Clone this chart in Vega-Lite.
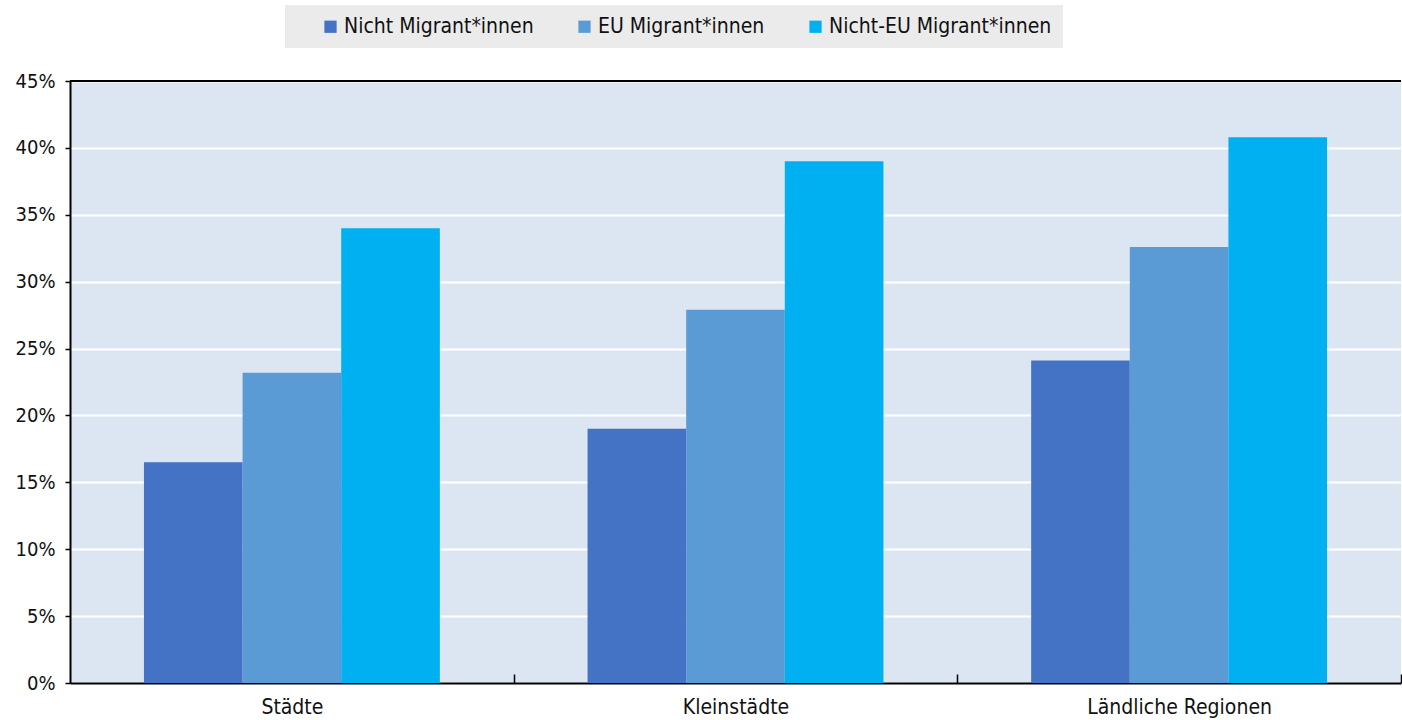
{
  "$schema": "https://vega.github.io/schema/vega-lite/v6.json",
  "autosize": "none",
  "padding": {"left": 70, "top": 81, "right": 1, "bottom": 37},
  "width": 1331,
  "height": 602,
  "background": "white",
  "config": {
    "font": "'DejaVu Sans Condensed', 'Liberation Sans', sans-serif",
    "view": {"fill": "#DCE6F2", "stroke": null}
  },
  "data": {
    "values": [
      {"region": "Städte", "gruppe": "Nicht Migrant*innen", "anteil": 0.165},
      {"region": "Städte", "gruppe": "EU Migrant*innen", "anteil": 0.232},
      {"region": "Städte", "gruppe": "Nicht-EU Migrant*innen", "anteil": 0.340},
      {"region": "Kleinstädte", "gruppe": "Nicht Migrant*innen", "anteil": 0.190},
      {"region": "Kleinstädte", "gruppe": "EU Migrant*innen", "anteil": 0.279},
      {"region": "Kleinstädte", "gruppe": "Nicht-EU Migrant*innen", "anteil": 0.390},
      {"region": "Ländliche Regionen", "gruppe": "Nicht Migrant*innen", "anteil": 0.241},
      {"region": "Ländliche Regionen", "gruppe": "EU Migrant*innen", "anteil": 0.326},
      {"region": "Ländliche Regionen", "gruppe": "Nicht-EU Migrant*innen", "anteil": 0.408}
    ]
  },
  "layer": [
    {
      "mark": {"type": "bar"},
      "encoding": {
        "x": {
          "field": "region",
          "type": "nominal",
          "sort": ["Städte", "Kleinstädte", "Ländliche Regionen"],
          "scale": {"paddingInner": 0.333, "paddingOuter": 0.1667},
          "axis": {
            "title": null,
            "labelAngle": 0,
            "labelFontSize": 21,
            "labelColor": "#111",
            "labelPadding": 22,
            "labelLimit": 400,
            "tickOffset": 221.8,
            "labelOffset": -221.8,
            "tickSize": -9,
            "tickColor": "#000",
            "tickWidth": 1.5,
            "domainColor": "#000",
            "domainWidth": 2
          }
        },
        "xOffset": {
          "field": "gruppe",
          "type": "nominal",
          "sort": ["Nicht Migrant*innen", "EU Migrant*innen", "Nicht-EU Migrant*innen"],
          "scale": {"paddingInner": 0, "paddingOuter": 0}
        },
        "y": {
          "field": "anteil",
          "type": "quantitative",
          "scale": {"domain": [0, 0.45]},
          "axis": {
            "title": null,
            "format": ".0%",
            "values": [0, 0.05, 0.1, 0.15, 0.2, 0.25, 0.3, 0.35, 0.4, 0.45],
            "labelFontSize": 20,
            "labelColor": "#111",
            "labelPadding": 10,
            "tickSize": 5,
            "tickColor": "#000",
            "tickWidth": 1.5,
            "domainColor": "#000",
            "domainWidth": 2,
            "grid": true,
            "gridColor": "#FFFFFF",
            "gridWidth": 2
          }
        },
        "color": {
          "field": "gruppe",
          "type": "nominal",
          "sort": ["Nicht Migrant*innen", "EU Migrant*innen", "Nicht-EU Migrant*innen"],
          "scale": {
            "domain": ["Nicht Migrant*innen", "EU Migrant*innen", "Nicht-EU Migrant*innen"],
            "range": ["#4472C4", "#5B9BD5", "#00B0F0"]
          },
          "legend": {
            "title": null,
            "orient": "none",
            "direction": "horizontal",
            "legendX": 215,
            "legendY": -76,
            "fillColor": "#EBEBEB",
            "padding": 11,
            "symbolType": "square",
            "symbolSize": 150,
            "symbolStrokeWidth": 0,
            "symbolOffset": 24,
            "labelFontSize": 21,
            "labelColor": "#111",
            "labelOffset": 3,
            "labelLimit": 400,
            "columnPadding": 16
          }
        }
      }
    },
    {
      "mark": {"type": "rule", "color": "#000", "strokeWidth": 2},
      "encoding": {"y": {"datum": 0.45}}
    }
  ]
}
